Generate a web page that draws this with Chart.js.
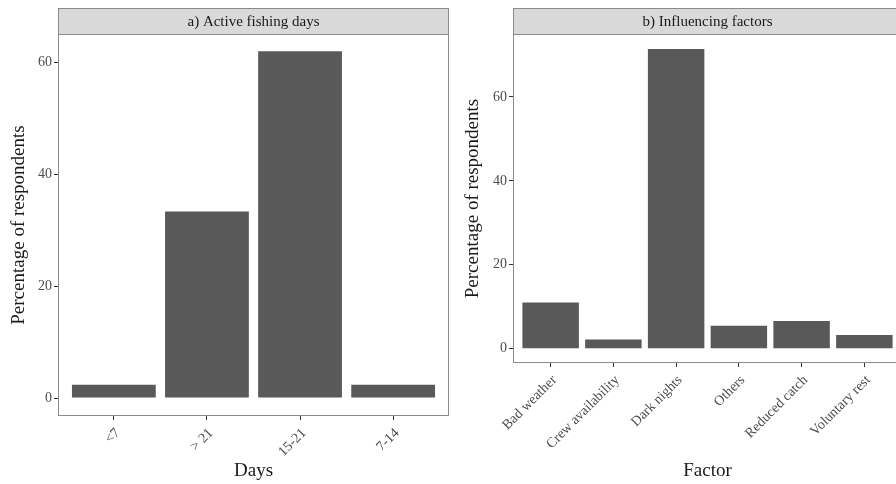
<!DOCTYPE html>
<html>
<head>
<meta charset="utf-8">
<script src="https://cdn.jsdelivr.net/npm/chart.js@4"></script>
<style>
    html, body { margin: 0; padding: 0; overflow: hidden; background: #fff; }
    #wrap { position: relative; width: 896px; height: 484px; overflow: hidden; }
    canvas { position: absolute; top: 0; }
    #chartA { left: 0; }
    #chartB { left: 456px; }
</style>
</head>
<body>
<div id="wrap">
    <canvas id="chartA" width="456" height="484"></canvas>
    <canvas id="chartB" width="454" height="484"></canvas>
</div>
<script>
/* global Chart */

// a) active fishing days
const DAYS = ['<7', '> 21', '15-21', '7-14'];
const DAYS_PCT = [2.4, 33.3, 61.9, 2.4];
const DAYS_Y_TICKS = [0, 20, 40, 60];

// b) influencing factors
const FACTORS = ['Bad weather', 'Crew availability', 'Dark nights', 'Others', 'Reduced catch', 'Voluntary rest'];
const FACTORS_PCT = [11.0, 2.2, 71.4, 5.5, 6.6, 3.3];
const FACTORS_Y_TICKS = [0, 20, 40, 60];

const SERIF = '"Liberation Serif", "DejaVu Serif", serif';
const BAR = '#595959';
const BORDER = '#8a8a8a';

// grey strip on top + panel border, like a ggplot facet
const facetPlugin = {
    id: 'facet',
    afterDraw(chart, args, opts) {
        const { ctx, chartArea: a } = chart;
        ctx.save();
        ctx.fillStyle = '#d9d9d9';
        ctx.fillRect(a.left, 8, a.right - a.left, a.top - 8);
        ctx.strokeStyle = BORDER;
        ctx.lineWidth = 1;
        ctx.strokeRect(a.left + 0.5, 8.5, a.right - a.left - 1, a.top - 8);
        ctx.strokeRect(a.left + 0.5, a.top + 0.5, a.right - a.left - 1, a.bottom - a.top - 1);
        ctx.fillStyle = '#1a1a1a';
        ctx.font = '15px ' + SERIF;
        ctx.textAlign = 'center';
        ctx.textBaseline = 'middle';
        ctx.fillText(opts.text, (a.left + a.right) / 2, (8 + a.top) / 2 + 1);
        ctx.restore();
    }
};

function makeChart(id, cfg) {
    const n = cfg.labels.length;
    return new Chart(document.getElementById(id), {
        type: 'bar',
        data: {
            datasets: [{
                data: cfg.values.map((v, i) => ({ x: i + 1, y: v })),
                backgroundColor: BAR,
                borderWidth: 0,
                categoryPercentage: 0.9,
                barPercentage: 1,
            }]
        },
        options: {
            responsive: false,
            animation: false,
            events: [],
            layout: { padding: { top: 34, right: cfg.padRight, left: 0, bottom: 0 } },
            plugins: {
                legend: { display: false },
                tooltip: { enabled: false },
                facet: { text: cfg.strip },
            },
            scales: {
                x: {
                    type: 'linear',
                    min: 0.4,
                    max: n + 0.6,
                    offset: false,
                    afterBuildTicks: s => { s.ticks = cfg.labels.map((l, i) => ({ value: i + 1 })); },
                    afterFit: s => { s.height = cfg.xHeight; },
                    grid: { offset: false, drawOnChartArea: false, drawTicks: true, tickLength: 4, tickColor: '#333' },
                    border: { display: false },
                    ticks: {
                        autoSkip: false,
                        minRotation: 45,
                        maxRotation: 45,
                        padding: 5,
                        labelOffset: 4,
                        color: '#4d4d4d',
                        font: { family: SERIF, size: 14 },
                        callback: v => cfg.labels[Math.round(v) - 1],
                    },
                    title: {
                        display: true,
                        text: cfg.xTitle,
                        color: '#1a1a1a',
                        font: { family: SERIF, size: 19 },
                        padding: { top: 0, bottom: 2 },
                    },
                },
                y: {
                    min: cfg.yMin,
                    max: cfg.yMax,
                    afterBuildTicks: s => { s.ticks = cfg.yTicks.map(v => ({ value: v })); },
                    afterFit: s => { s.width = cfg.yWidth; },
                    grid: { drawOnChartArea: false, drawTicks: true, tickLength: 4, tickColor: '#333' },
                    border: { display: false },
                    ticks: {
                        padding: 2,
                        color: '#4d4d4d',
                        font: { family: SERIF, size: 14 },
                    },
                    title: {
                        display: true,
                        text: 'Percentage of respondents',
                        color: '#1a1a1a',
                        font: { family: SERIF, size: 19 },
                        padding: { top: cfg.yTitlePad, bottom: 0 },
                    },
                },
            },
        },
        plugins: [facetPlugin],
    });
}

makeChart('chartA', {
    labels: DAYS, values: DAYS_PCT, yTicks: DAYS_Y_TICKS,
    strip: 'a) Active fishing days', xTitle: 'Days',
    yMin: -3.2, yMax: 65, yWidth: 58, xHeight: 68, padRight: 7, yTitlePad: 7.6,
});

makeChart('chartB', {
    labels: FACTORS, values: FACTORS_PCT, yTicks: FACTORS_Y_TICKS,
    strip: 'b) Influencing factors', xTitle: 'Factor',
    yMin: -3.4, yMax: 75, yWidth: 57, xHeight: 121, padRight: 8, yTitlePad: 5.6,
});
</script>
</body>
</html>
